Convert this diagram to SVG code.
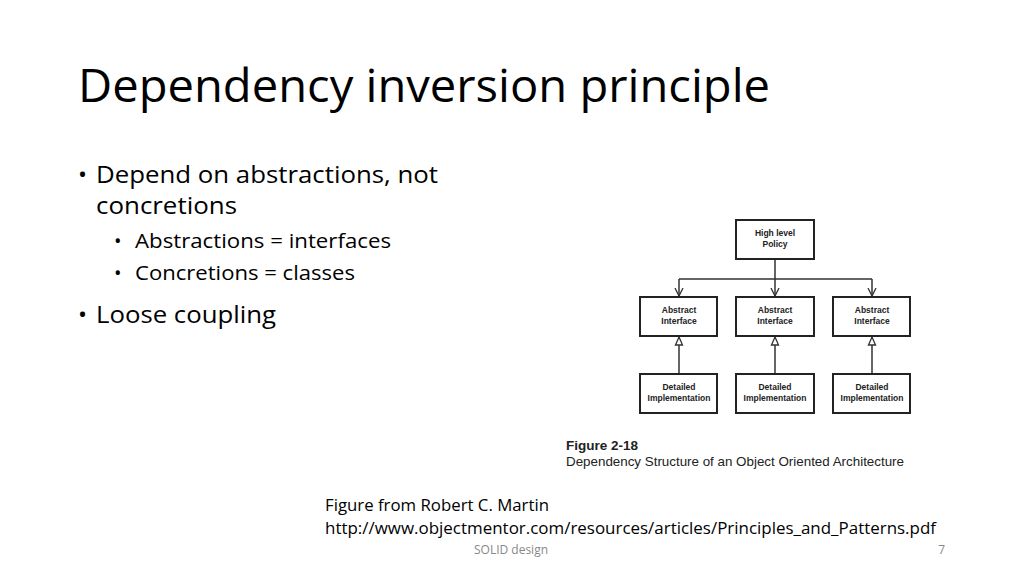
<svg xmlns="http://www.w3.org/2000/svg" width="1024" height="575" viewBox="0 0 1024 575">
<style>
.s{font-family:"Open Sans","Noto Sans",sans-serif;fill:#000}
.b{fill:#fff;stroke:#222;stroke-width:2}
.n{font-family:"Liberation Sans",Arial,sans-serif;font-weight:bold;font-size:8.5px;fill:#222;text-anchor:middle}
.c{fill:none;stroke:#333;stroke-width:1.5}
</style>
<defs>
<marker id="open" markerWidth="10" markerHeight="10" refX="8" refY="5" orient="auto" markerUnits="userSpaceOnUse"><path d="M0,1 L8,5 L0,9" fill="none" stroke="#333" stroke-width="1.3"/></marker>
<marker id="tri" markerWidth="10" markerHeight="10" refX="9" refY="5" orient="auto" markerUnits="userSpaceOnUse"><path d="M1,1.5 L9,5 L1,8.5 Z" fill="#fff" stroke="#333" stroke-width="1.3"/></marker>
</defs>
<rect width="1024" height="575" fill="#fff"/>
<text class="s" x="78" y="102" font-size="46" textLength="692" lengthAdjust="spacingAndGlyphs">Dependency inversion principle</text>
<text class="s" x="78" y="183" font-size="24">•</text>
<text class="s" x="96" y="183" font-size="24" textLength="342" lengthAdjust="spacingAndGlyphs">Depend on abstractions, not</text>
<text class="s" x="96" y="214" font-size="24" textLength="141" lengthAdjust="spacingAndGlyphs">concretions</text>
<text class="s" x="114" y="248" font-size="20">•</text>
<text class="s" x="135" y="248" font-size="20" textLength="256" lengthAdjust="spacingAndGlyphs">Abstractions = interfaces</text>
<text class="s" x="114" y="280" font-size="20">•</text>
<text class="s" x="135" y="280" font-size="20" textLength="220" lengthAdjust="spacingAndGlyphs">Concretions = classes</text>
<text class="s" x="78" y="323" font-size="24">•</text>
<text class="s" x="96" y="323" font-size="24" textLength="180" lengthAdjust="spacingAndGlyphs">Loose coupling</text>
<g id="connectors">
<path class="c" d="M775,259 V279 M679,279 H872"/>
<path class="c" d="M679,279 V296" marker-end="url(#open)"/>
<path class="c" d="M775,279 V296" marker-end="url(#open)"/>
<path class="c" d="M872,279 V296" marker-end="url(#open)"/>
<path class="c" d="M679,374 V337" marker-end="url(#tri)"/>
<path class="c" d="M775,374 V337" marker-end="url(#tri)"/>
<path class="c" d="M872,374 V337" marker-end="url(#tri)"/>
</g>
<g id="policy"><rect class="b" x="736" y="220" width="78" height="39"/><text class="n" x="775" y="236">High level</text><text class="n" x="775" y="247">Policy</text></g>
<g id="abs1"><rect class="b" x="640" y="297" width="77" height="39"/><text class="n" x="679" y="313">Abstract</text><text class="n" x="679" y="324">Interface</text></g>
<g id="abs2"><rect class="b" x="736" y="297" width="78" height="39"/><text class="n" x="775" y="313">Abstract</text><text class="n" x="775" y="324">Interface</text></g>
<g id="abs3"><rect class="b" x="833" y="297" width="77" height="39"/><text class="n" x="872" y="313">Abstract</text><text class="n" x="872" y="324">Interface</text></g>
<g id="det1"><rect class="b" x="640" y="374" width="77" height="39"/><text class="n" x="679" y="390">Detailed</text><text class="n" x="679" y="401">Implementation</text></g>
<g id="det2"><rect class="b" x="736" y="374" width="78" height="39"/><text class="n" x="775" y="390">Detailed</text><text class="n" x="775" y="401">Implementation</text></g>
<g id="det3"><rect class="b" x="833" y="374" width="77" height="39"/><text class="n" x="872" y="390">Detailed</text><text class="n" x="872" y="401">Implementation</text></g>
<text x="566" y="450" font-family="Liberation Sans,Arial,sans-serif" font-weight="bold" font-size="13.5" fill="#222">Figure 2-18</text>
<text x="566" y="466" font-family="Liberation Sans,Arial,sans-serif" font-size="13" fill="#222" textLength="338" lengthAdjust="spacingAndGlyphs">Dependency Structure of an Object Oriented Architecture</text>
<text class="s" x="325" y="511" font-size="17" textLength="224" lengthAdjust="spacingAndGlyphs">Figure from Robert C. Martin</text>
<text class="s" x="325" y="534" font-size="17" textLength="611" lengthAdjust="spacingAndGlyphs">http://www.objectmentor.com/resources/articles/Principles_and_Patterns.pdf</text>
<text class="s" x="511" y="554" font-size="12" style="fill:#888" text-anchor="middle">SOLID design</text>
<text class="s" x="945" y="554" font-size="12" style="fill:#888" text-anchor="end">7</text>
</svg>
